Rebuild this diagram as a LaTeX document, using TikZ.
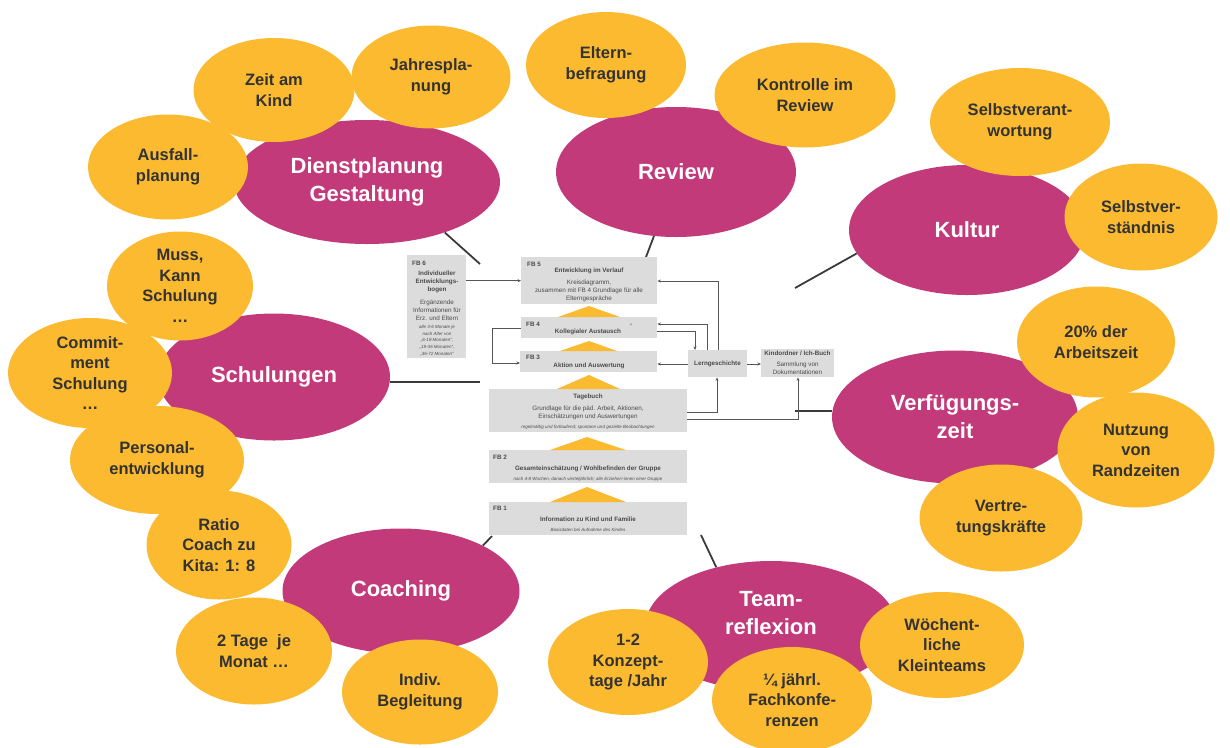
\documentclass[tikz,border=0pt]{standalone}
\usepackage{fontspec}
\setmainfont{Liberation Sans}
\usetikzlibrary{shapes.geometric,arrows.meta}
\definecolor{magc}{HTML}{C33A7A}
\definecolor{orgc}{HTML}{FBBA30}
\definecolor{boxc}{HTML}{DCDCDC}
\definecolor{txtc}{HTML}{333333}
\definecolor{btxt}{HTML}{4A4A4A}
\definecolor{linec}{HTML}{3A3A3A}
\definecolor{connc}{HTML}{555555}
\tikzset{
  mag/.style={ellipse, fill=magc, text=white, font=\bfseries\fontsize{22}{28}\selectfont, align=center, inner sep=0pt},
  magt/.style={text=white, font=\bfseries\fontsize{22}{28}\selectfont, align=center, inner sep=0pt},
  org/.style={ellipse, fill=orgc, text=txtc, font=\bfseries\fontsize{16.5}{20.5}\selectfont, align=center, inner sep=0pt},
  box/.style={fill=boxc, inner sep=0pt, anchor=north west},
  hdr/.style={anchor=west, inner sep=0pt, text=btxt, font=\bfseries\fontsize{6.3}{7.5}\selectfont},
  bhd/.style={inner sep=0pt, text=btxt, align=center, font=\bfseries\fontsize{6.3}{8}\selectfont},
  btx/.style={inner sep=0pt, text=btxt, align=center, font=\fontsize{6.3}{7.8}\selectfont},
  bit/.style={inner sep=0pt, text=btxt, align=center, font=\itshape\fontsize{4.5}{6.6}\selectfont},
  tri/.style={fill=orgc},
  link/.style={draw=linec, line width=1.8pt},
  conn/.style={draw=connc, line width=0.9pt, -{Stealth[length=3.5pt,width=3pt]}}
}
\begin{document}
\begin{tikzpicture}[x=1pt,y=-1pt]
\useasboundingbox (0,0) rectangle (1230,747);

% magenta ellipses
\node[mag, minimum width=266pt, minimum height=124pt] (dp) at (367,182) {Dienstplanung\\Gestaltung};
\node[mag, minimum width=240pt, minimum height=130pt] (rv) at (676,172) {Review};
\node[mag, minimum width=236pt, minimum height=130pt] (ku) at (967,230) {Kultur};
\node[mag, minimum width=232pt, minimum height=127pt] (sc) at (274,377) {Schulungen};
\node[mag, minimum width=246pt, minimum height=133pt] (vz) at (955,417) {Verfügungs-\\zeit};
\node[mag, minimum width=237pt, minimum height=125pt] (co) at (401,591) {Coaching};
\node[mag, minimum width=251pt, minimum height=130pt] (tr) at (771,626) {};
\node[magt] (trt) at (771,613) {Team-\\reflexion};

% orange ellipses
\node[org, minimum width=161pt, minimum height=104pt] (zk) at (274,90) {Zeit am\\Kind};
\node[org, minimum width=159pt, minimum height=103pt] (jp) at (431,77) {Jahrespla-\\nung};
\node[org, minimum width=160pt, minimum height=105pt] (ap) at (168,167) {Ausfall-\\planung};
\node[org, minimum width=160pt, minimum height=106pt] (eb) at (606,65) {Eltern-\\befragung};
\node[org, minimum width=181pt, minimum height=105pt] (kr) at (805,95) {Kontrolle im\\Review};
\node[org, minimum width=180pt, minimum height=108pt] (sv) at (1020,122) {Selbstverant-\\wortung};
\node[org, minimum width=153pt, minimum height=107pt] (sd) at (1141,217) {Selbstver-\\ständnis};
\node[org, minimum width=146pt, minimum height=109pt] (mk) at (180,286) {Muss,\\Kann\\Schulung\\…};
\node[org, minimum width=164pt, minimum height=110pt] (cm) at (90,373) {Commit-\\ment\\Schulung\\…};
\node[org, minimum width=174pt, minimum height=108pt] (pe) at (157,460) {Personal-\\entwicklung};
\node[org, minimum width=145pt, minimum height=109pt] (ra) at (219,545) {Ratio\\Coach zu\\Kita: 1: 8};
\node[org, minimum width=156pt, minimum height=107pt] (tm) at (254,651) {2 Tage~ je\\Monat …};
\node[org, minimum width=156pt, minimum height=105pt] (ib) at (420,692) {Indiv.\\Begleitung};
\node[org, minimum width=158pt, minimum height=111pt] (az) at (1096,342) {20\% der\\Arbeitszeit};
\node[org, minimum width=157pt, minimum height=115pt] (nr) at (1136,450) {Nutzung\\von\\Randzeiten};
\node[org, minimum width=163pt, minimum height=107pt] (vk) at (1001,518) {Vertre-\\tungskräfte};
\node[org, minimum width=164pt, minimum height=106pt] (wk) at (942,645) {Wöchent-\\liche\\Kleinteams};
\node[org, minimum width=160pt, minimum height=106pt] (kt) at (628,662) {1-2\\Konzept-\\tage /Jahr};
\node[org, minimum width=160pt, minimum height=106pt] (fk) at (792,700) {¼ jährl.\\Fachkonfe-\\renzen};

% link lines from ellipses
\coordinate (dpe) at (480,264);
\coordinate (rve) at (646,257);
\coordinate (kue) at (795,288);
\coordinate (sce) at (480,382);
\coordinate (vze) at (795,411);
\coordinate (coe) at (492,536);
\coordinate (tre) at (701,535);
\draw[link] (dp.-33) -- (dpe);
\draw[link] (rv.251) -- (rve);
\draw[link] (ku.192) -- (kue);
\draw[link] (sc.east |- sce) -- (sce);
\draw[link] (vz.west |- vze) -- (vze);
\draw[link] (co.29) -- (coe);
\draw[link] (tr.133) -- (tre);

% central boxes
\node[box, minimum width=59pt, minimum height=103pt] (fb6) at (407,255) {};
\node[box, minimum width=136pt, minimum height=47pt] (fb5) at (521,257) {};
\node[box, minimum width=136pt, minimum height=21pt] (fb4) at (521,317) {};
\node[box, minimum width=137pt, minimum height=21pt] (fb3) at (520,351) {};
\node[box, minimum width=198pt, minimum height=43pt] (tb) at (489,389) {};
\node[box, minimum width=198pt, minimum height=33pt] (fb2) at (489,450) {};
\node[box, minimum width=198pt, minimum height=33pt] (fb1) at (489,502) {};
\node[box, minimum width=59pt, minimum height=27pt] (lg) at (688,350) {};
\node[box, minimum width=73pt, minimum height=28pt] (ko) at (761,349) {};

% triangles
\fill[tri] (558,317) -- (589,306) -- (620,317) -- cycle;
\fill[tri] (560,351) -- (589,341) -- (617,351) -- cycle;
\fill[tri] (557,389) -- (589,375) -- (620,389) -- cycle;
\fill[tri] (550,450) -- (587,437) -- (626,450) -- cycle;
\fill[tri] (550,502) -- (587,487) -- (626,502) -- cycle;

% box texts
\node[hdr] (fb6h) at (412,263) {FB 6};
\node[bhd] (fb6a) at (437,282) {Individueller\\Entwicklungs-\\bogen};
\node[btx] (fb6b) at (437,310) {Ergänzende\\Informationen für\\Erz. und Eltern};
\node[bit] (fb6c) at (437,340.5) {alle 3-6 Monate je\\nach Alter von\\„6-18 Monaten“,\\„19-36 Monaten“,\\„36-72 Monaten“};

\node[hdr] (fb5h) at (527,264) {FB 5};
\node[bhd] (fb5a) at (589,271) {Entwicklung im Verlauf};
\node[btx] (fb5b) at (589,291) {Kreisdiagramm,\\zusammen mit FB 4 Grundlage für alle\\Elterngespräche};

\node[hdr] (fb4h) at (526,324) {FB 4};
\node[bhd] (fb4a) at (588,332) {Kollegialer Austausch};
\node[bhd] (fb4d) at (631,326) {\textquotesingle};

\node[hdr] (fb3h) at (526,357) {FB 3};
\node[bhd] (fb3a) at (589,366) {Aktion und Auswertung};

\node[bhd] (tba) at (588,397) {Tagebuch};
\node[btx] (tbb) at (588,413) {Grundlage für die päd. Arbeit, Aktionen,\\Einschätzungen und Auswertungen};
\node[bit] (tbc) at (588,427) {regelmäßig und fortlaufend; spontane und gezielte Beobachtungen};

\node[hdr] (fb2h) at (493,457) {FB 2};
\node[bhd] (fb2a) at (588,469) {Gesamteinschätzung / Wohlbefinden der Gruppe};
\node[bit] (fb2b) at (588,479) {nach 4-8 Wochen, danach vierteljährlich; alle Erzieher/-innen einer Gruppe};

\node[hdr] (fb1h) at (493,508) {FB 1};
\node[bhd] (fb1a) at (588,519) {Information zu Kind und Familie};
\node[bit] (fb1b) at (588,530) {Basisdaten bei Aufnahme des Kindes};

\node[bhd] (lga) at (717.5,364) {Lerngeschichte};
\node[bhd] (koa) at (797.5,353) {Kindordner / Ich-Buch};
\node[btx] (kob) at (797.5,368) {Sammlung von\\Dokumentationen};

% connectors
\draw[conn] (fb6.east |- fb5.west) -- (fb5.west);
\coordinate (c2) at (718,281);
\draw[conn] (c2 |- lg.north) -- (c2) -- (c2 -| fb5.east);
\coordinate (c3) at (707,324);
\draw[conn] (c3 |- lg.north) -- (c3) -- (c3 -| fb4.east);
\coordinate (c4) at (695,331);
\draw[conn] (c4 -| fb4.east) -- (c4) -- (c4 |- lg.north);
\coordinate (c5) at (700,364);
\draw[conn] (c5 -| lg.west) -- (c5 -| fb3.east);
\coordinate (c6) at (717,412);
\draw[conn] (c6 -| tb.east) -- (c6) -- (c6 |- lg.south);
\draw[conn] (c5 -| lg.east) -- (c5 -| ko.west);
\coordinate (c8) at (798,419);
\draw[conn] (c8 -| tb.east) -- (c8) -- (c8 |- ko.south);
\coordinate (c9a) at (492,328);
\coordinate (c9b) at (492,363);
\draw[conn] (c9a -| fb4.west) -- (c9a) -- (c9b) -- (c9b -| fb3.west);
\end{tikzpicture}
\end{document}
